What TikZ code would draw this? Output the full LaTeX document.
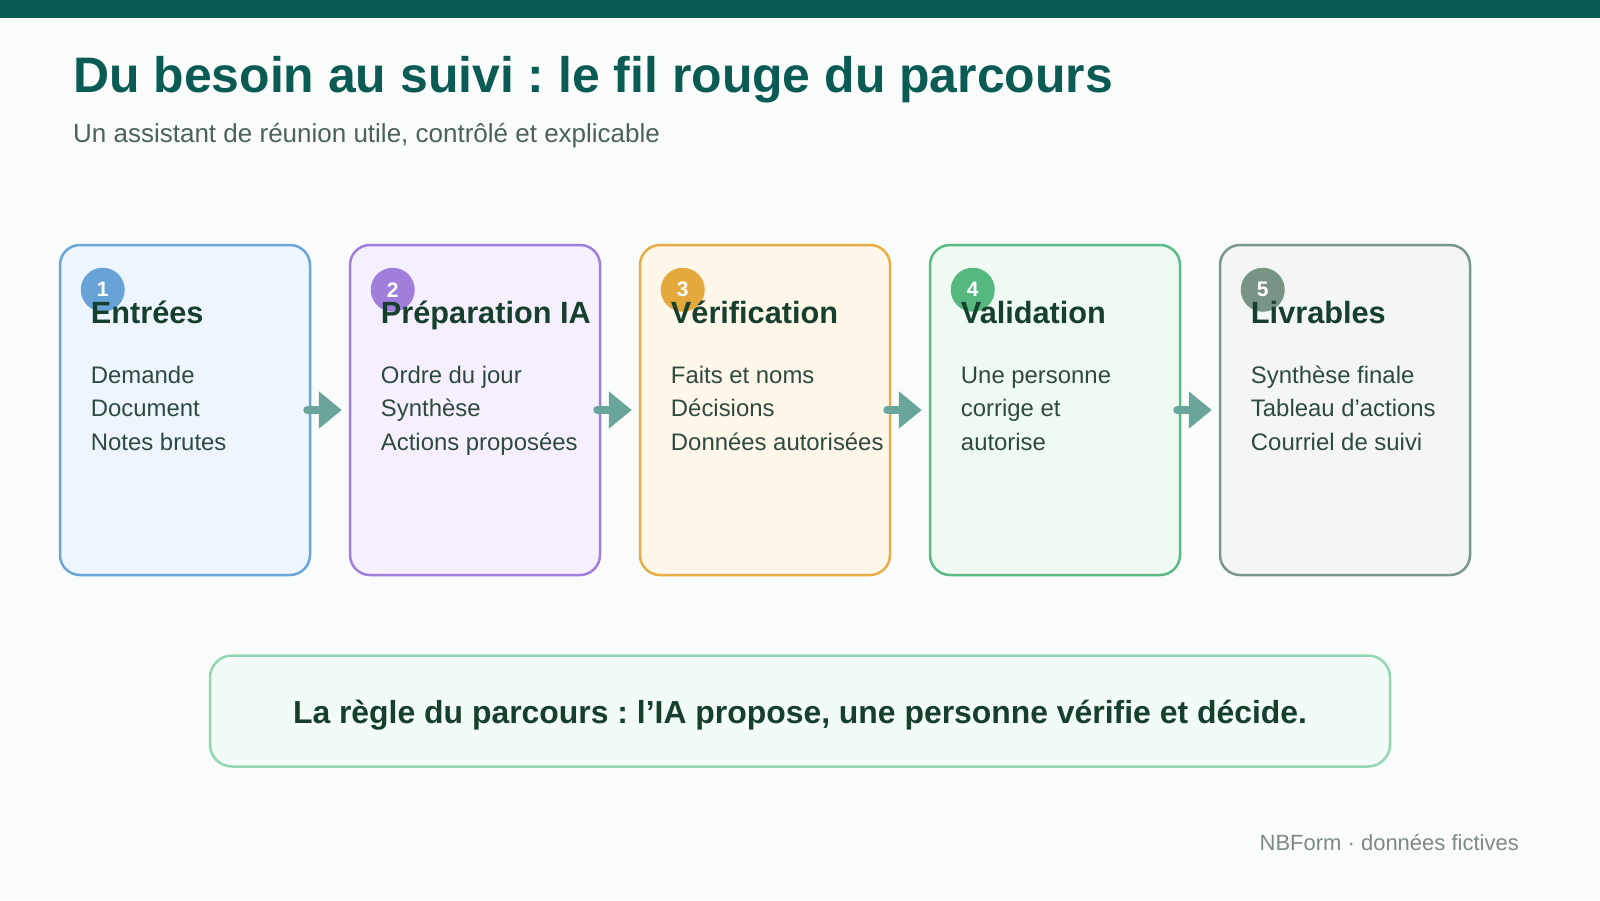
\documentclass[tikz,border=0pt]{standalone}
\usepackage{fontspec}
\setmainfont{Liberation Sans}
\usetikzlibrary{arrows.meta,calc}
\frenchspacing
\definecolor{bg}{HTML}{F9FCFA}
\definecolor{teal}{HTML}{0B5B55}
\definecolor{subc}{HTML}{4B615A}
\definecolor{headc}{HTML}{173F2D}
\definecolor{itemc}{HTML}{2E4A3E}
\definecolor{arrc}{HTML}{6AA59B}
\definecolor{footc}{HTML}{7B8A86}
\definecolor{ba}{HTML}{6AA4D8}\definecolor{fa}{HTML}{EEF5FF}\definecolor{ca}{HTML}{68A3D8}
\definecolor{bb}{HTML}{A07FDC}\definecolor{fb}{HTML}{F6F0FE}\definecolor{cb}{HTML}{A07FDC}
\definecolor{bc}{HTML}{E8AD45}\definecolor{fc}{HTML}{FFF7EA}\definecolor{cc}{HTML}{E4A83D}
\definecolor{bd}{HTML}{5ABA85}\definecolor{fd}{HTML}{EFFAF3}\definecolor{cd}{HTML}{54B87F}
\definecolor{be}{HTML}{7A978A}\definecolor{fe}{HTML}{F3F6F5}\definecolor{ce}{HTML}{789485}
\definecolor{rulebd}{HTML}{93D6B4}\definecolor{rulefill}{HTML}{F2FBF7}
\tikzset{
  stepbox/.style={draw, line width=2.5pt, rounded corners=20pt, minimum width=250pt, minimum height=330pt, inner sep=0pt},
  numdot/.style={circle, minimum size=44pt, inner sep=0pt, text=white, font=\bfseries\fontsize{21}{21}\selectfont},
  headtxt/.style={anchor=base west, inner sep=0pt, text=headc, font=\bfseries\fontsize{30.7}{31}\selectfont},
  itemtxt/.style={anchor=base west, inner sep=0pt, text=itemc, font=\fontsize{23.9}{24}\selectfont},
  flowarrow/.style={draw=arrc, line width=8pt, line cap=round, -{Triangle[length=23pt,width=36pt]}},
}
\begin{document}
\begin{tikzpicture}[x=1pt,y=-1pt]
\useasboundingbox (0,0) rectangle (1600,900);
\fill[bg] (0,0) rectangle (1600,900);
\fill[teal] (0,0) rectangle (1600,18);
\node[anchor=base west, inner sep=0pt, text=teal, font=\bfseries\fontsize{49.9}{50}\selectfont] (title) at (73,92) {Du besoin au suivi : le fil rouge du parcours};
\node[anchor=base west, inner sep=0pt, text=subc, font=\fontsize{26}{26}\selectfont] (subtitle) at (73,142) {Un assistant de réunion utile, contrôlé et explicable};
% boxes
\foreach \i/\bcol/\fcol in {1/ba/fa,2/bb/fb,3/bc/fc,4/bd/fd,5/be/fe}{
  \node[stepbox, draw=\bcol, fill=\fcol] (b\i) at ({185+290*(\i-1)},410) {};
}
% arrows
\foreach \i/\j in {1/2,2/3,3/4,4/5}{
  \draw[flowarrow] ($(b\i.east)+(-4,0)$) -- ($(b\j.west)+(-7,0)$);
}
% number dots
\foreach \i/\ccol in {1/ca,2/cb,3/cc,4/cd,5/ce}{
  \node[numdot, fill=\ccol] (n\i) at ($(b\i.north west)+(44,46)$) {\i};
}
% headings
\foreach \i/\t in {1/Entrées,2/Préparation IA,3/Vérification,4/Validation,5/Livrables}{
  \node[headtxt] (h\i) at ($(b\i.north west)+(32,80)$) {\t};
}
% items
\foreach \i/\a/\b/\c in {1/Demande/Document/Notes brutes,
  2/Ordre du jour/Synthèse/Actions proposées,
  3/Faits et noms/Décisions/Données autorisées,
  4/Une personne/corrige et/autorise,
  5/Synthèse finale/Tableau d’actions/Courriel de suivi}{
  \node[itemtxt] (i\i a) at ($(b\i.north west)+(32,139.5)$) {\a};
  \node[itemtxt] (i\i b) at ($(b\i.north west)+(32,173)$) {\b};
  \node[itemtxt] (i\i c) at ($(b\i.north west)+(32,206.5)$) {\c};
}
% rule box
\node[draw=rulebd, fill=rulefill, line width=2.5pt, rounded corners=22pt, minimum width=1180pt, minimum height=111pt, inner sep=0pt] (rule) at (800,711) {};
\node[inner sep=0pt, text=headc, font=\bfseries\fontsize{31.9}{32}\selectfont] (ruletxt) at (800,715) {La règle du parcours : l’IA propose, une personne vérifie et décide.};
% footer
\node[anchor=base east, inner sep=0pt, text=footc, font=\fontsize{22}{22}\selectfont] (footer) at (1519,850) {NBForm · données fictives};
\end{tikzpicture}
\end{document}
